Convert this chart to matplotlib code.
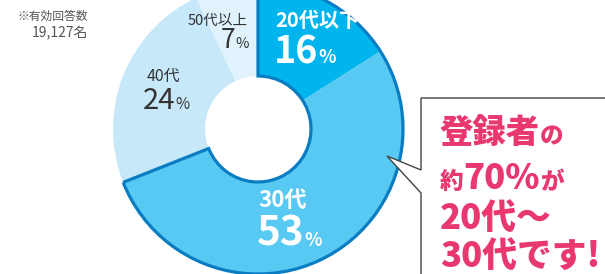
import matplotlib
matplotlib.use("Agg")
import matplotlib.pyplot as plt
from matplotlib.patches import Polygon

plt.rcParams['font.family'] = ['Noto Sans CJK JP', 'DejaVu Sans']

# ---- data ----
categories = ["20代以下", "30代", "40代", "50代以上"]
shares = [16, 53, 24, 7]
colors = ["#00b5ee", "#57c9f3", "#c6e8f9", "#e0f2fb"]
respondents = "19,127名"
note_label = "※有効回答数"

W, H = 605, 274
fig = plt.figure(figsize=(W / 100, H / 100), dpi=100)
ax = fig.add_axes([0, 0, 1, 1])

def Y(y):
    return H - y

cx, cy, R, r_in = 258, 129, 145, 53
ring = R - r_in

ax.pie(shares, colors=colors, startangle=90, counterclock=False,
       center=(cx, Y(cy)), radius=R, frame=True,
       wedgeprops=dict(width=ring, edgecolor='none', linewidth=0))
# outline around the 20-30 group
young = shares[0] + shares[1]
w2, _ = ax.pie([young, 100 - young], colors=['none', 'none'], startangle=90,
               counterclock=False, center=(cx, Y(cy)), radius=R, frame=True,
               wedgeprops=dict(width=ring, linewidth=2.3))
w2[0].set_edgecolor('#0a7dc2')
w2[1].set_edgecolor('none')
ax.set_xlim(0, W)
ax.set_ylim(0, H)
ax.set_aspect('equal')
ax.axis('off')

fig.canvas.draw()
renderer = fig.canvas.get_renderer()

def chain(x, y, parts, color, weight='bold', z=3):
    """parts: list of (text, size). Left-aligned on baseline y (image coords)."""
    for txt, size in parts:
        t = ax.text(x, Y(y), txt, fontsize=size, color=color, fontweight=weight,
                    ha='left', va='baseline', zorder=z)
        bb = t.get_window_extent(renderer=renderer)
        x = x + bb.width
    return x

white = 'white'
dark = '#333333'
chain(275, 27, [(categories[0], 14.5)], white)
chain(274, 63, [(str(shares[0]), 27), ('%', 13)], white)
chain(258, 207, [(categories[1], 16)], white)
chain(257, 246, [(str(shares[1]), 29), ('%', 13)], white)
chain(147, 81, [(categories[2], 11.5)], dark, 'normal')
chain(143, 109, [(str(shares[2]), 21), ('%', 11)], dark, 'normal')
chain(188, 25, [(categories[3], 10.5)], dark, 'normal')
chain(221, 48, [(str(shares[3]), 19), ('%', 10.5)], dark, 'normal')

# note
ax.text(88, Y(20), note_label, fontsize=8.5, color='#555555', ha='right', va='baseline')
ax.text(88, Y(37), respondents, fontsize=10, color='#555555', ha='right', va='baseline')

# callout box
pts = [(421, 98), (625, 98), (625, 290), (421, 290), (421, 193), (387, 156), (421, 170)]
ax.add_patch(Polygon([(x, Y(y)) for x, y in pts], closed=True, facecolor='white',
                     edgecolor='#444444', linewidth=1.0, zorder=5))

pink = '#e8386f'
chain(440, 143, [("登録者", 24), ("の", 17)], pink, 'heavy', 6)
chain(440, 189, [("約", 17), ("70%", 25), ("が", 17)], pink, 'heavy', 6)
chain(440, 230, [("20代〜", 25)], pink, 'heavy', 6)
chain(440, 268, [("30代です!", 25)], pink, 'heavy', 6)

fig.savefig('out.png', dpi=100)
